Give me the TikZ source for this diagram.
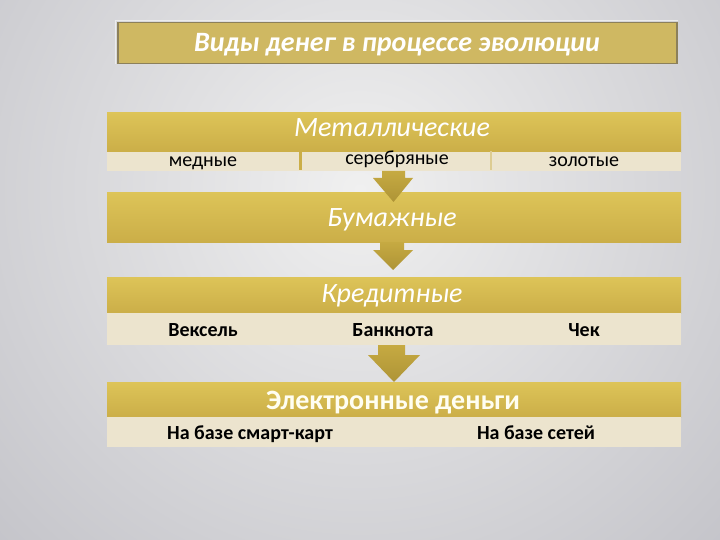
\documentclass[tikz,border=0pt]{standalone}
\usepackage{fontspec}
\setmainfont{Carlito}
\definecolor{goldlight}{RGB}{221,196,88}
\definecolor{golddark}{RGB}{203,174,72}
\definecolor{beige}{RGB}{236,228,206}
\definecolor{titlefill}{RGB}{207,184,98}
\definecolor{titleborder}{RGB}{140,128,90}
\definecolor{arrowlight}{RGB}{198,170,66}
\definecolor{arrowdark}{RGB}{174,148,54}
\definecolor{bgin}{RGB}{240,240,240}
\definecolor{bgout}{RGB}{192,192,198}
\tikzset{
  header/.style={anchor=north west, minimum height=#1, minimum width=574pt, inner sep=0pt,
    top color=goldlight, bottom color=golddark, draw=none},
  subrow/.style={anchor=north west, minimum height=#1, minimum width=574pt, inner sep=0pt,
    fill=beige, draw=none},
  headtext/.style={anchor=base, text=white, font=\fontsize{28}{30}\selectfont\itshape},
  subtext/.style={anchor=base, text=black, font=\fontsize{20}{22}\selectfont\bfseries},
  metaltext/.style={anchor=base, text=black, font=\fontsize{20}{22}\selectfont},
  blockarrow/.style={top color=arrowlight, bottom color=arrowdark, draw=none},
}
\begin{document}
\begin{tikzpicture}[x=1pt,y=1pt]
\useasboundingbox (0,0) rectangle (720,-540);
\begin{scope}
\clip (0,0) rectangle (720,-540);
\shade[inner color=bgin, outer color=bgout] (360,-190) circle (560);
\end{scope}

% title
\node[anchor=north west, minimum width=559pt, minimum height=41pt, inner sep=0pt,
  fill=titlefill, draw=titleborder, line width=1.5pt] (title) at (117,-22) {};
\draw[white!85!gray, line width=0.8pt] (115.5,-64) -- (115.5,-20.5) -- (677.5,-20.5);
\node[anchor=base, text=white, font=\fontsize{28}{30}\selectfont\bfseries\itshape] at (397,-52) {Виды денег в процессе эволюции};

% Metallic
\node[header=40pt] (met) at (107,-112) {};
\node[subrow=19pt] (metsub) at (107,-152) {};
\fill[golddark] (299,-151) rectangle (302,-170);
\fill[golddark!45!beige] (490,-151) rectangle (492,-170);
\node[headtext] at (392,-137) {Металлические};
\node[metaltext] (med) at (203,-167) {медные};
\node[metaltext] (ser) at (397,-165) {серебряные};
\node[metaltext] (zol) at (584,-167) {золотые};

% Paper
\node[header=50pt] (bum) at (107,-192) {};
\node[headtext] at (392,-226) {Бумажные};

% Credit
\node[header=36pt] (kred) at (107,-277) {};
\node[subrow=32pt] (kredsub) at (107,-313) {};
\node[headtext] at (392,-302) {Кредитные};
\node[subtext] (veks) at (203,-336) {Вексель};
\node[subtext] (bank) at (393,-336) {Банкнота};
\node[subtext] (chek) at (584,-336) {Чек};

% Electronic
\node[header=35pt] (el) at (107,-382) {};
\node[subrow=30pt] (elsub) at (107,-417) {};
\node[anchor=base, text=white!95!yellow, font=\fontsize{28}{30}\selectfont\bfseries] at (393,-409) {Электронные деньги};
\node[subtext] (smart) at (250,-439) {На базе смарт-карт};
\node[subtext] (set) at (536,-439) {На базе сетей};

% arrows
\shade[blockarrow] (382,-171) -- (405,-171) -- (405,-178) -- (413,-178) -- (393.5,-202) -- (373,-178) -- (382,-178) -- cycle;
\shade[blockarrow] (380,-242) -- (404,-242) -- (404,-250) -- (413,-250) -- (393,-270) -- (373,-250) -- (380,-250) -- cycle;
\shade[blockarrow] (378,-345) -- (405,-345) -- (405,-355) -- (420,-355) -- (394,-382) -- (368,-355) -- (378,-355) -- cycle;
\end{tikzpicture}
\end{document}
